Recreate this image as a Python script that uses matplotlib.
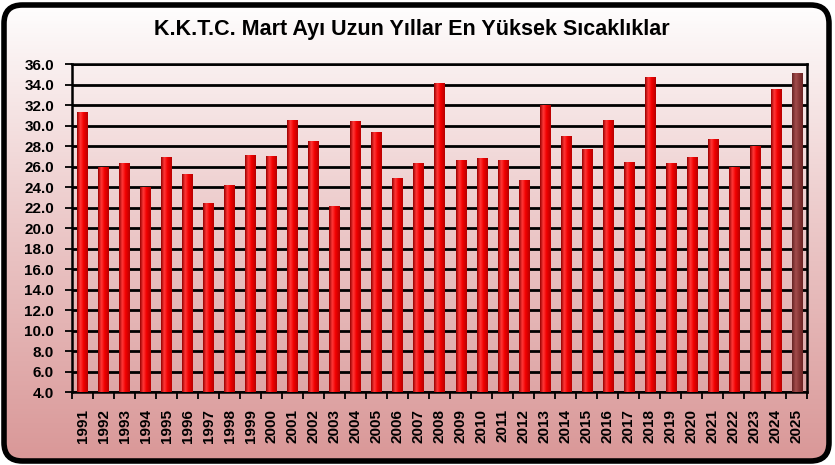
import numpy as np
import matplotlib
matplotlib.use("Agg")
import matplotlib.pyplot as plt
from matplotlib.patches import FancyBboxPatch
from matplotlib.colors import LinearSegmentedColormap

years = [str(y) for y in range(1991, 2026)]
values = [31.3, 26.0, 26.3, 24.0, 26.9, 25.3, 22.4, 24.2, 27.1, 27.0,
          30.5, 28.5, 22.1, 30.4, 29.4, 24.9, 26.3, 34.1, 26.6, 26.8,
          26.6, 24.7, 32.0, 29.0, 27.7, 30.5, 26.4, 34.7, 26.3, 26.9,
          28.7, 26.0, 28.0, 33.6, 35.1]
title = "K.K.T.C. Mart Ayı Uzun Yıllar En Yüksek Sıcaklıklar"
yticks = np.arange(4.0, 36.1, 2.0)
ymin, ymax = 4.0, 36.0

plt.rcParams['font.family'] = ['Liberation Sans', 'DejaVu Sans']

W, H = 835, 465
fig = plt.figure(figsize=(W / 100, H / 100), dpi=100)
fig.patch.set_facecolor('white')

# background with gradient and rounded border
bg = fig.add_axes([0, 0, 1, 1], zorder=0)
bg.set_xlim(0, 1)
bg.set_ylim(0, 1)
bg.axis('off')
grad_cmap = LinearSegmentedColormap.from_list(
    'bgc', [(0.0, (0.85, 0.59, 0.59)), (0.55, (0.93, 0.80, 0.80)), (1.0, (1.0, 1.0, 1.0))])
g = np.linspace(0, 1, 256).reshape(-1, 1)
frame = FancyBboxPatch((4 / W, 4 / H), (W - 10) / W, (H - 9) / H,
                       boxstyle="round,pad=0,rounding_size=0.022",
                       transform=bg.transAxes, facecolor='none',
                       edgecolor='black', linewidth=4, mutation_aspect=W / H, zorder=3)
bg.add_patch(frame)
im = bg.imshow(g, cmap=grad_cmap, extent=[0, 1, 0, 1], aspect='auto',
               origin='lower', zorder=1)
im.set_clip_path(frame)

fig.text(0.493, 0.936, title, ha='center', va='center', fontsize=15.5,
         fontweight='bold', color='black')

ax = fig.add_axes([72 / W, (H - 392) / H, 735.5 / W, 328 / H], zorder=1)
ax.patch.set_alpha(0)

x = np.arange(len(years))
heights = [v - ymin for v in values]
colors = ['#e00000'] * (len(years) - 1) + ['#8a3535']
bars = ax.bar(x, heights, bottom=ymin, width=0.5, color=colors, zorder=3, linewidth=0)

red_cmap = LinearSegmentedColormap.from_list(
    'redg', [(0.0, (0.60, 0.0, 0.0)), (0.3, (1.0, 0.22, 0.22)),
             (0.6, (0.95, 0.0, 0.0)), (1.0, (0.72, 0.0, 0.0))])
brown_cmap = LinearSegmentedColormap.from_list(
    'brg', [(0.0, (0.40, 0.14, 0.14)), (0.35, (0.64, 0.30, 0.30)),
            (0.7, (0.52, 0.20, 0.20)), (1.0, (0.42, 0.14, 0.14))])
hg = np.linspace(0, 1, 64).reshape(1, -1)
for i, b in enumerate(bars):
    x0, y0 = b.get_x(), b.get_y()
    x1, y1 = x0 + b.get_width(), y0 + b.get_height()
    cm = brown_cmap if i == len(bars) - 1 else red_cmap
    bi = ax.imshow(hg, cmap=cm, extent=[x0, x1, y0, y1], aspect='auto',
                   zorder=3.5, interpolation='bilinear')
    bi.set_clip_path(b)

ax.set_xlim(-0.5, len(years) - 0.5)
ax.set_ylim(ymin, ymax)
ax.set_yticks(yticks)
ax.set_yticklabels([f"{v:.1f}" for v in yticks], fontsize=11, fontweight='bold')
ax.grid(axis='y', color='black', linewidth=2, zorder=1)
ax.set_axisbelow(True)

ax.set_xticks(x)
ax.set_xticklabels(years, rotation=90, fontsize=11, fontweight='bold')
ax.set_xticks(np.arange(-0.5, len(years), 1.0), minor=True)
ax.tick_params(axis='x', which='major', length=0, pad=12)
ax.tick_params(axis='x', which='minor', length=5, width=1.3, direction='out')
ax.tick_params(axis='y', length=5, width=1.3, direction='out', pad=8)
for s in ax.spines.values():
    s.set_linewidth(1.8)
    s.set_color('black')

fig.savefig('out.png', dpi=100)
